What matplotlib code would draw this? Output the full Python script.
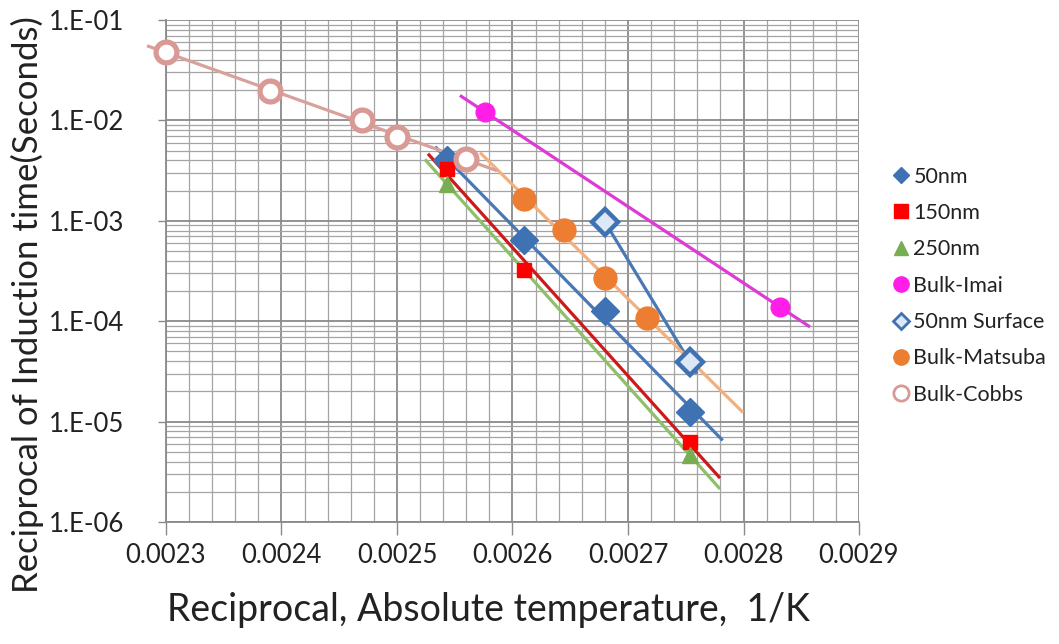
import numpy as np
import matplotlib
matplotlib.use("Agg")
import matplotlib.pyplot as plt
from matplotlib.lines import Line2D
from matplotlib.ticker import FixedLocator, LogLocator, NullFormatter, MultipleLocator

plt.rcParams['font.family'] = ['Lato', 'DejaVu Sans']

# Reciprocal absolute temperature (1/K) and reciprocal induction time (1/s)
x_50nm = [0.0025436, 0.0026099, 0.0026799, 0.0027537]
y_50nm = [4.0e-3, 6.4e-4, 1.26e-4, 1.25e-5]

x_150nm = [0.0025436, 0.0026099, 0.0027537]
y_150nm = [3.3e-3, 3.25e-4, 6.3e-6]

x_250nm = [0.0025436, 0.0027537]
y_250nm = [2.3e-3, 4.6e-6]

x_imai = [0.0025763, 0.0028317]
y_imai = [1.21e-2, 1.38e-4]

x_surface = [0.0026799, 0.0027537]
y_surface = [9.8e-4, 3.9e-5]

x_matsuba = [0.0026099, 0.0026445, 0.0026799, 0.0027163]
y_matsuba = [1.65e-3, 8.1e-4, 2.7e-4, 1.08e-4]

x_cobbs = [0.0023, 0.00239, 0.00247, 0.0025, 0.00256]
y_cobbs = [4.8e-2, 1.96e-2, 1.01e-2, 6.8e-3, 4.1e-3]

series_names = ["50nm", "150nm", "250nm", "Bulk-Imai", "50nm Surface",
                "Bulk-Matsuba", "Bulk-Cobbs"]

# Exponential trendline spans (1/K)
trend_span = {
    "50nm": (0.002533, 0.002782),
    "150nm": (0.0025268, 0.0027797),
    "250nm": (0.0025242, 0.0027797),
    "Bulk-Imai": (0.0025545, 0.0028576),
    "50nm Surface": (0.0026799, 0.0027597),
    "Bulk-Matsuba": (0.0025719, 0.0027996),
    "Bulk-Cobbs": (0.0022835, 0.0025866),
}

x_ticks = [0.0023, 0.0024, 0.0025, 0.0026, 0.0027, 0.0028, 0.0029]
x_tick_labels = ["0.0023", "0.0024", "0.0025", "0.0026", "0.0027", "0.0028", "0.0029"]
y_ticks = [1e-6, 1e-5, 1e-4, 1e-3, 1e-2, 1e-1]
y_tick_labels = ["1.E-06", "1.E-05", "1.E-04", "1.E-03", "1.E-02", "1.E-01"]

data = {
    "50nm": (x_50nm, y_50nm),
    "150nm": (x_150nm, y_150nm),
    "250nm": (x_250nm, y_250nm),
    "Bulk-Imai": (x_imai, y_imai),
    "50nm Surface": (x_surface, y_surface),
    "Bulk-Matsuba": (x_matsuba, y_matsuba),
    "Bulk-Cobbs": (x_cobbs, y_cobbs),
}

styles = {
    "50nm": dict(marker="D", ms=14, mfc="#3f72b3", mec="#3f72b3", mew=1,
                 line="#4a78b5"),
    "150nm": dict(marker="s", ms=10.5, mfc="#ff0000", mec="#ff0000", mew=1,
                  line="#cc1a1a"),
    "250nm": dict(marker="^", ms=11.5, mfc="#78ad52", mec="#78ad52", mew=1,
                  line="#8fbf68"),
    "Bulk-Imai": dict(marker="o", ms=13.5, mfc="#ff1ee8", mec="#ff1ee8", mew=1,
                      line="#dd3ad6"),
    "50nm Surface": dict(marker="D", ms=13.5, mfc="#dce8f5", mec="#3f72b3", mew=3.2,
                         line="#4a78b5"),
    "Bulk-Matsuba": dict(marker="o", ms=16.5, mfc="#ed7d31", mec="#ed7d31", mew=1,
                         line="#f2b07e"),
    "Bulk-Cobbs": dict(marker="o", ms=15, mfc="white", mec="#d99a96", mew=3.8,
                       line="#d9a19c"),
}

fig = plt.figure(figsize=(10.59, 6.44), dpi=100)
ax = fig.add_axes([166 / 1059, 1 - 522 / 644, (859 - 166) / 1059, (522 - 20) / 644])

ax.set_yscale("log")
ax.set_xlim(0.0023, 0.0029)
ax.set_ylim(1e-6, 1e-1)

# grid
ax.xaxis.set_major_locator(FixedLocator(x_ticks))
ax.xaxis.set_minor_locator(MultipleLocator(0.00002))
ax.yaxis.set_major_locator(FixedLocator(y_ticks))
ax.yaxis.set_minor_locator(LogLocator(base=10, subs=np.arange(2, 10), numticks=20))
ax.yaxis.set_minor_formatter(NullFormatter())
ax.grid(which="major", color="#8a8a8a", linewidth=1.3)
ax.grid(which="minor", color="#a4a4a4", linewidth=0.9)
ax.set_axisbelow(True)

ax.set_xticklabels(x_tick_labels)
ax.set_yticklabels(y_tick_labels)
ax.tick_params(which="minor", length=0)
ax.tick_params(axis="x", which="major", length=9, width=1, color="#8a8a8a",
               labelsize=18.5, pad=6, labelcolor="#222222")
ax.tick_params(axis="y", which="major", length=6, width=1, color="#8a8a8a",
               labelsize=18.5, pad=24, labelcolor="#222222")

for side in ("top", "right"):
    ax.spines[side].set_visible(False)
for side in ("left", "bottom"):
    ax.spines[side].set_color("#8a8a8a")
    ax.spines[side].set_linewidth(1.3)

# trendlines then markers
for name in series_names:
    xs, ys = data[name]
    st = styles[name]
    k, b = np.polyfit(np.array(xs), np.log10(np.array(ys)), 1)
    x0, x1 = trend_span[name]
    xt = np.array([x0, x1])
    ax.plot(xt, 10 ** (k * xt + b), color=st["line"], lw=2.3,
            solid_capstyle="butt", clip_on=False, zorder=3)

for name in series_names:
    xs, ys = data[name]
    st = styles[name]
    ax.plot(xs, ys, linestyle="none", marker=st["marker"], ms=st["ms"],
            mfc=st["mfc"], mec=st["mec"], mew=st["mew"], clip_on=False, zorder=4)

fig.text(488 / 1059, 1 - 610 / 644, "Reciprocal, Absolute temperature,  1/K",
         fontsize=27, ha="center", va="center", color="#222222")
fig.text(27 / 1059, 1 - 305 / 644, "Reciprocal of Induction time(Seconds)",
         fontsize=25, ha="center", va="center", rotation=90, color="#222222")

handles = []
for name in series_names:
    st = styles[name]
    lm = st["marker"]
    ms = {"D": 8.5, "s": 9.5, "^": 10.5, "o": 11}[lm]
    mew = 2 if name in ("50nm Surface", "Bulk-Cobbs") else 1
    handles.append(Line2D([], [], linestyle="none", marker=lm, ms=ms,
                          mfc=st["mfc"], mec=st["mec"], mew=mew))
fig.legend(handles, series_names, loc="upper left",
           bbox_to_anchor=(879 / 1059, 1 - 158 / 644),
           frameon=False, fontsize=15.5, handletextpad=0.0, labelspacing=0.76,
           handlelength=1.2, borderaxespad=0, labelcolor="#222222")

fig.savefig("out.png", dpi=100)
